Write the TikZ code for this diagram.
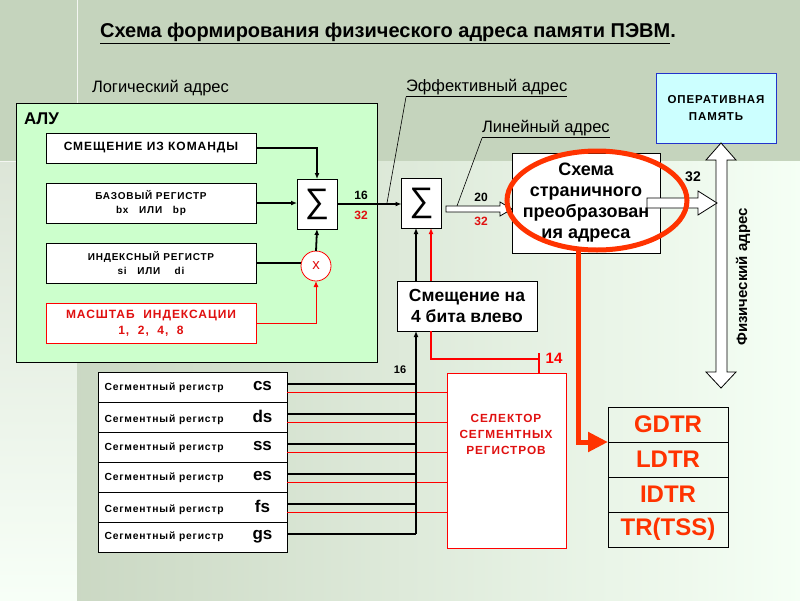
\documentclass[tikz,border=0pt]{standalone}
\usepackage{fontspec}
\setmainfont{Liberation Sans}
\newfontfamily\wide{Liberation Sans}[LetterSpace=8]
\usetikzlibrary{arrows.meta,calc,shapes.geometric}
\definecolor{bandtop}{HTML}{C5D4BD}
\definecolor{alugreen}{HTML}{CCFFCC}
\definecolor{ramcyan}{HTML}{CCFFFF}
\definecolor{ramblue}{HTML}{2233CC}
\definecolor{hotred}{HTML}{FF3300}
\definecolor{wirered}{HTML}{FF0000}
\definecolor{labred}{HTML}{E01010}
\begin{document}
\begin{tikzpicture}[x=1pt, y=-1pt, inner sep=0pt, outer sep=0pt,
  box/.style={draw=black, fill=white, line width=0.8pt, align=center, minimum width=210pt},
  capsfont/.style={font=\wide\bfseries\fontsize{10}{14}\selectfont},
  sumbox/.style={draw=black, fill=white, line width=0.8pt, minimum width=40pt, minimum height=50pt, font=\fontsize{34}{34}\selectfont},
  segbox/.style={draw=black, fill=white, line width=0.8pt, minimum width=189pt, minimum height=30pt, inner xsep=6.5pt, font=\wide\bfseries\fontsize{10.3}{12}\selectfont},
  regrow/.style={draw=black, line width=0.8pt, minimum width=120pt, minimum height=35pt, text=hotred, font=\bfseries\fontsize{24}{25}\selectfont},
  arr/.style={draw=black, line width=1.8pt, -{Latex[length=6pt,width=5pt]}},
  wire/.style={draw=black, line width=1.8pt},
  redarr/.style={draw=wirered, line width=1pt, -{Latex[length=6pt,width=5pt]}},
  redwire/.style={draw=wirered, line width=1pt},
  leader/.style={draw=black, line width=0.6pt},
  hollow/.style={draw=black, fill=white, line width=0.8pt, line join=miter},
  num/.style={font=\bfseries\fontsize{12}{13}\selectfont},
  caption/.style={font=\fontsize{16.5}{18}\selectfont}]
\useasboundingbox (0,0) rectangle (800,600);
\fill[bandtop] (0,0) rectangle (800,161);
\shade[top color=bandtop!60!white, bottom color=green!3!white] (0,161) rectangle (77,600);
\shade[left color=bandtop!90!white, right color=green!4!white] (77,161) rectangle (800,600);
\draw[white!80!bandtop, line width=0.8pt] (77,0) -- (77,161) (0,161) -- (77,161);

\node[font=\bfseries\fontsize{20}{22}\selectfont] (title) at (388,33) {\underline{Схема формирования физического адреса памяти ПЭВМ}.};
\node[anchor=west, caption] (logName) at (92,88) {Логический адрес};

\node[draw=black, fill=alugreen, line width=0.8pt, minimum width=361pt, minimum height=259pt] (alu) at (196.5,232.5) {};
\node[anchor=west, font=\bfseries\fontsize{17}{18}\selectfont] (aluName) at (24,119) {АЛУ};
\node[box, minimum height=30pt, font=\wide\bfseries\fontsize{12}{14}\selectfont] (disp) at (151,148) {СМЕЩЕНИЕ ИЗ КОМАНДЫ};
\node[box, capsfont, minimum height=40pt] (base) at (151,203) {БАЗОВЫЙ РЕГИСТР\\bx \ \ ИЛИ \ \ bp};
\node[box, capsfont, minimum height=40pt] (index) at (151,263) {ИНДЕКСНЫЙ РЕГИСТР\\si \ \ ИЛИ \ \ \ di};
\node[box, draw=wirered, text=labred, minimum height=40pt, font=\wide\bfseries\fontsize{12}{16}\selectfont] (scale) at (151,323) {МАСШТАБ \ ИНДЕКСАЦИИ\\1, \ 2, \ 4, \ 8};
\node[sumbox] (sumA) at (317,204) {∑};
\node[circle, draw=wirered, fill=white, line width=0.8pt, minimum size=30pt, text=labred, font=\fontsize{15}{15}\selectfont] (mul) at (316,266) {x};

\draw[arr] (disp.east) -| (sumA.north);
\draw[arr] (base.east) -- (base.east -| sumA.west);
\draw[wire] (index.east) -- (index.east -| mul.west);
\draw[arr] (mul.north) -- (sumA.south);
\draw[redarr] (scale.east) -| (mul.south);

\node[sumbox] (sumB) at (421.5,203) {∑};
\draw[arr] (sumA.east) -- (sumA.east -| sumB.west);
\node[num] (wA) at (361,195) {16};
\node[num, text=labred] (wAx) at (361,215) {32};

\node[anchor=south west, caption] (eff) at (406,97) {\underline{Эффективный адрес}};
\coordinate (effTap) at (387,203);
\draw[leader] (effTap) -- (eff.south west);

\node[anchor=south west, caption] (lin) at (482,138) {\underline{Линейный адрес}};
\coordinate (linTap) at (457,206);
\draw[leader] (linTap) -- (lin.south west);

\node[draw=black, fill=white, line width=0.8pt, minimum width=148pt, minimum height=100pt, align=center, font=\bfseries\fontsize{18}{21}\selectfont] (page) at (586,203) {Схема\\страничного\\преобразован\\ия адреса};
\path[hollow] (446,206) -- (500,206) -- (500,202) -- (512,209) -- (500,216) -- (500,212) -- (446,212) -- cycle;
\node[num] (wB) at (481,197) {20};
\node[num, text=labred] (wBx) at (481,221) {32};

\node[draw=ramblue, fill=ramcyan, line width=1pt, minimum width=120pt, minimum height=70pt, align=center, font=\wide\bfseries\fontsize{11.5}{17}\selectfont] (ram) at (716,108) {ОПЕРАТИВНАЯ\\ПАМЯТЬ};
\path[hollow] (716,160) -- (706,160) -- (721,143) -- (736,160) -- (727,160) -- (727,372) -- (736,372) -- (721,388) -- (706,372) -- (716,372) -- cycle;
\node[rotate=90, font=\bfseries\fontsize{15}{16}\selectfont] (physName) at (743,277) {Физический адрес};
\path[hollow] (647,198) -- (698,198) -- (698,191) -- (717,203) -- (698,215) -- (698,208) -- (647,208) -- cycle;
\node[font=\bfseries\fontsize{14}{15}\selectfont] (wC) at (693,177) {32};
\node[ellipse, draw=hotred, line width=5pt, minimum width=180pt, minimum height=99pt] (ring) at (597,200.5) {};

\node[draw=black, fill=white, line width=0.8pt, minimum width=140pt, minimum height=50pt, align=center, font=\bfseries\fontsize{17.5}{21}\selectfont] (shift) at (467,306) {Смещение на\\4 бита влево};

\foreach \r/\k [count=\i from 0] in {segcs/cs, segds/ds, segss/ss, seges/es, segfs/fs, seggs/gs}
  \node[segbox] (\r) at (192.5,387+30*\i) {\makebox[140pt][l]{Сегментный регистр}\makebox[36pt]{\rmfamily\bfseries\fontsize{17}{17}\selectfont\k}};

\node[draw=wirered, fill=white, line width=0.8pt, minimum width=119pt, minimum height=175pt] (sel) at (506.5,460.5) {};
\node[align=center, text=labred, font=\wide\bfseries\fontsize{11.8}{16}\selectfont] (selName) at (506,434) {СЕЛЕКТОР\\СЕГМЕНТНЫХ\\РЕГИСТРОВ};

\coordinate (blkIn) at ([xshift=-5.5pt]sumB.south);
\coordinate (redIn) at ([xshift=9.5pt]sumB.south);
\foreach \r in {segcs, segds, segss, seges, segfs, seggs}{
  \coordinate (bk\r) at ([yshift=3pt]\r.east);
  \draw[wire] (bk\r) -- (bk\r -| blkIn);
}
\foreach \r in {segcs, segds, segss, seges, segfs}{
  \coordinate (rd\r) at ([yshift=-5pt]\r.east);
  \draw[redwire] (rd\r) -- (rd\r -| sel.west);
}
\draw[arr] (bkseggs -| blkIn) -- (blkIn |- shift.south);
\draw[arr] (blkIn |- shift.north) -- (blkIn);
\node[font=\bfseries\fontsize{11}{12}\selectfont] (wD) at (400,370) {16};

\coordinate (selTap) at ([xshift=32.5pt]sel.north);
\draw[redwire, line width=2pt] (selTap) -- ++(0,-20);
\draw[redwire, line width=2pt] ([yshift=14pt]selTap) -| (redIn |- shift.south);
\draw[redarr, line width=2pt] (redIn |- shift.north) -- (redIn);
\node[text=wirered, font=\bfseries\fontsize{15}{16}\selectfont] (wE) at (554,358) {14};

\node[regrow] (gdtr) at (668,424.5) {GDTR};
\node[regrow] (ldtr) at (668,459.5) {LDTR};
\node[regrow] (idtr) at (668,494.5) {IDTR};
\node[regrow] (trss) at (668,529.5) {TR(TSS)};
\draw[hotred, line width=5pt, -{Triangle[length=20pt,width=19pt]}] ([xshift=-19pt]ring.south) |- (gdtr.south west);
\end{tikzpicture}
\end{document}
